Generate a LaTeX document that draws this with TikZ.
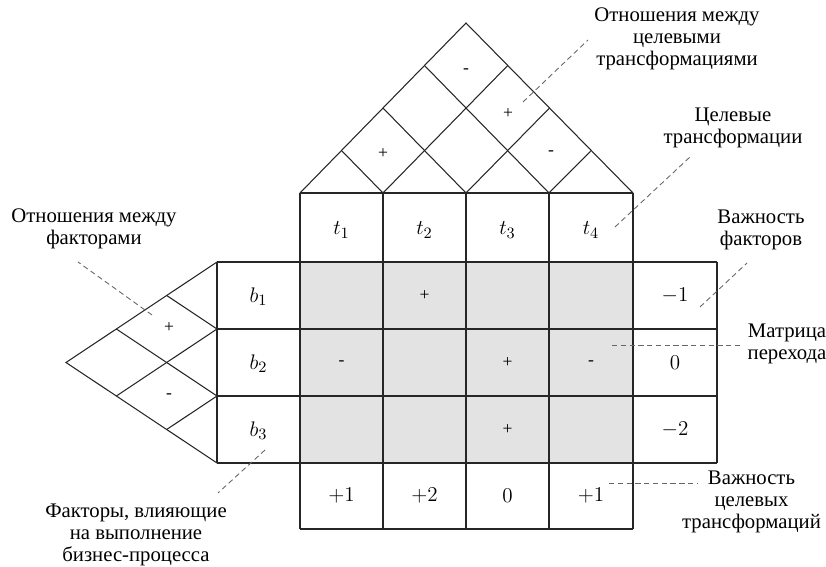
\documentclass[tikz,border=0pt]{standalone}
\usepackage{fontspec}
\setmainfont{Liberation Serif}
\usetikzlibrary{calc}

\begin{document}
\begin{tikzpicture}[x=0.02cm,y=-0.02cm,line width=0.6pt,draw=black!85,
  lead/.style={densely dashed,draw=black!60,line width=0.5pt},
  lab/.style={align=center,font=\fontsize{11.8}{12.6}\selectfont},
  val/.style={font=\fontsize{12.5}{14}\selectfont},
  sgn/.style={font=\fontsize{10}{11}\selectfont}]
\useasboundingbox (0,0) rectangle (826,567);
\coordinate (A) at (466,23);
\coordinate (P0) at (300,193);
\coordinate (P1) at (383,193);
\coordinate (P2) at (466,193);
\coordinate (P3) at (549,193);
\coordinate (P4) at (633,193);
\coordinate (L) at (66,362.5);
\coordinate (Q0) at (217,262);
\coordinate (Q1) at (217,329);
\coordinate (Q2) at (217,396);
\coordinate (Q3) at (217,463);

\fill[black!11] (300,262) rectangle (633,463);

\draw (P0)--(A)--(P4);
\draw (P1)--($(P0)!.25!(A)$) (P1)--($(P4)!.75!(A)$);
\draw (P2)--($(P0)!.5!(A)$) (P2)--($(P4)!.5!(A)$);
\draw (P3)--($(P0)!.75!(A)$) (P3)--($(P4)!.25!(A)$);

\draw (Q0)--(L)--(Q3);
\draw (Q1)--($(Q0)!{1/3}!(L)$) (Q1)--($(Q3)!{2/3}!(L)$);
\draw (Q2)--($(Q0)!{2/3}!(L)$) (Q2)--($(Q3)!{1/3}!(L)$);

\draw (P0)--(P4) (300,529)--(633,529);
\draw (Q0)--(717,262) (Q1)--(717,329) (Q2)--(717,396) (Q3)--(717,463);
\draw (Q0)--(Q3) (717,262)--(717,463);
\draw (P0)--(300,529) (P1)--(383,529) (P2)--(466,529) (P3)--(549,529) (P4)--(633,529);

\node[val] (t1) at (341.5,230) {$t_1$};
\node[val] (t2) at (424.5,230) {$t_2$};
\node[val] (t3) at (507.5,230) {$t_3$};
\node[val] (t4) at (591,230) {$t_4$};
\node[val] (b1) at (258.5,297) {$b_1$};
\node[val] (b2) at (258.5,364) {$b_2$};
\node[val] (b3) at (258.5,431) {$b_3$};
\node[val] (w1) at (675,296) {$-1$};
\node[val] (w2) at (675,363) {$0$};
\node[val] (w3) at (675,430) {$-2$};
\node[val] (v1) at (341.5,496) {$+1$};
\node[val] (v2) at (424.5,496) {$+2$};
\node[val] (v3) at (507.5,496) {$0$};
\node[val] (v4) at (591,496) {$+1$};

\node[sgn] (r14) at (466,71) {-};
\node[sgn] (r24) at (508,114) {+};
\node[sgn] (r12) at (383,154) {+};
\node[sgn] (r34) at (551,153) {-};
\node[sgn] (f12) at (169,328) {+};
\node[sgn] (f23) at (169,396) {-};
\node[sgn] (m12) at (424.5,296) {+};
\node[sgn] (m21) at (341.5,363) {-};
\node[sgn] (m23) at (507.5,363) {+};
\node[sgn] (m24) at (591,363) {-};
\node[sgn] (m33) at (507.5,430) {+};

\node[lab] (relT) at (677,39) {Отношения между\\целевыми\\трансформациями};
\node[lab] (trT) at (733,128) {Целевые\\трансформации};
\node[lab] (wB) at (761,230) {Важность\\факторов};
\node[lab] (mx) at (787,344) {Матрица\\перехода};
\node[lab] (wT) at (751.5,502) {Важность\\целевых\\трансформаций};
\node[lab] (fB) at (136,535) {Факторы, влияющие\\на выполнение\\бизнес-процесса};
\node[lab] (relB) at (94,229) {Отношения между\\факторами};

\coordinate (l1a) at (523,102);
\coordinate (l1b) at (588,40);
\coordinate (l2a) at (615,227);
\coordinate (l2b) at (690,157);
\coordinate (l3a) at (700,307);
\coordinate (l3b) at (747,263);
\coordinate (l4a) at (612,345);
\coordinate (l4b) at (742,345);
\coordinate (l5a) at (609,483);
\coordinate (l5b) at (697,483);
\coordinate (l6a) at (265,450);
\coordinate (l6b) at (218,493);
\coordinate (l7a) at (152,315);
\coordinate (l7b) at (78,262);
\draw[lead] (l1a)--(l1b);
\draw[lead] (l2a)--(l2b);
\draw[lead] (l3a)--(l3b);
\draw[lead] (l4a)--(l4b);
\draw[lead] (l5a)--(l5b);
\draw[lead] (l6a)--(l6b);
\draw[lead] (l7a)--(l7b);
\end{tikzpicture}
\end{document}
